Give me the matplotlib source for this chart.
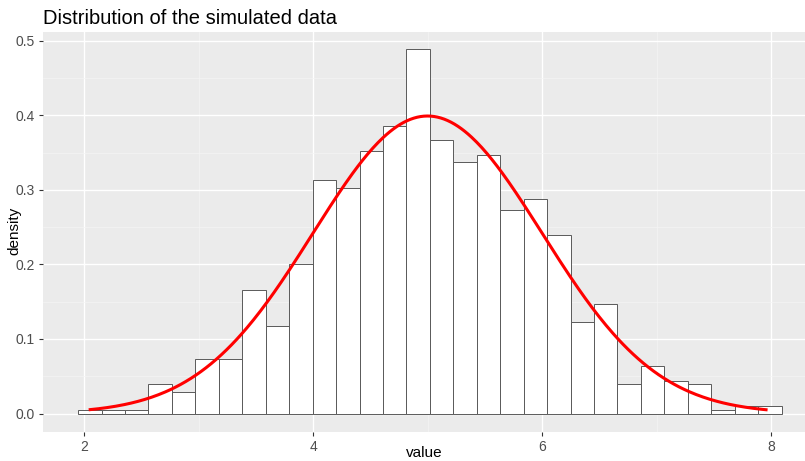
import numpy as np
import matplotlib
matplotlib.use("Agg")
import matplotlib.pyplot as plt

# Histogram data (n = 1000, 30 bins)
bin_start = 1.948
bin_width = 0.2048
counts = [1, 1, 1, 8, 6, 15, 15, 34, 24, 41, 64, 62, 72, 79, 100,
          75, 69, 71, 56, 59, 49, 25, 30, 8, 13, 9, 8, 1, 2, 2]
n_total = 1000
curve_mean = 5.0
curve_sd = 1.0
curve_range = (2.04, 7.97)

x_ticks = [2, 4, 6, 8]
y_ticks = [0.0, 0.1, 0.2, 0.3, 0.4, 0.5]

plt.rcParams['font.family'] = ['Liberation Sans', 'DejaVu Sans']

fig = plt.figure(figsize=(8.05, 4.61), dpi=100)
ax = fig.add_axes([43 / 805, (461 - 431.7) / 461, (805 - 43) / 805, (431.7 - 31.7) / 461])
ax.set_facecolor('#EBEBEB')

edges = bin_start + bin_width * np.arange(len(counts) + 1)
dens = np.array(counts) / (n_total * bin_width)
ax.bar(edges[:-1], dens, width=bin_width, align='edge', color='white',
       edgecolor='#5a5a5a', linewidth=0.7, zorder=3)

xs = np.linspace(curve_range[0], curve_range[1], 400)
ys = np.exp(-0.5 * ((xs - curve_mean) / curve_sd) ** 2) / (curve_sd * np.sqrt(2 * np.pi))
ax.plot(xs, ys, color='#FF0000', lw=2.2, zorder=4, solid_capstyle='butt')

ax.set_xlim(1.641, 8.297)
ax.set_ylim(-0.0244, 0.512)
ax.set_xticks(x_ticks)
ax.set_xticklabels([str(v) for v in x_ticks])
ax.set_yticks(y_ticks)
ax.set_yticklabels([f"{v:.1f}" for v in y_ticks])
ax.set_xticks([3, 5, 7], minor=True)
ax.set_yticks([0.05, 0.15, 0.25, 0.35, 0.45], minor=True)
ax.grid(which='major', color='white', lw=1.0, zorder=0)
ax.grid(which='minor', color='#F5F5F5', lw=0.5, zorder=0)
ax.set_axisbelow(True)
for s in ax.spines.values():
    s.set_visible(False)
ax.tick_params(which='major', length=3, color='#333333', labelcolor='#4D4D4D', labelsize=10, width=0.8, pad=3)
ax.tick_params(which='minor', length=0)

fig.text(424 / 805, 1 - 453 / 461, 'value', fontsize=11, ha='center', va='center', color='black')
fig.text(14 / 805, 1 - 231 / 461, 'density', fontsize=11, ha='center', va='center',
         rotation=90, color='black')
fig.text(43 / 805, 1 - 19 / 461, 'Distribution of the simulated data', fontsize=14.5,
         ha='left', va='center', color='black')

fig.savefig('out.png', dpi=100)
